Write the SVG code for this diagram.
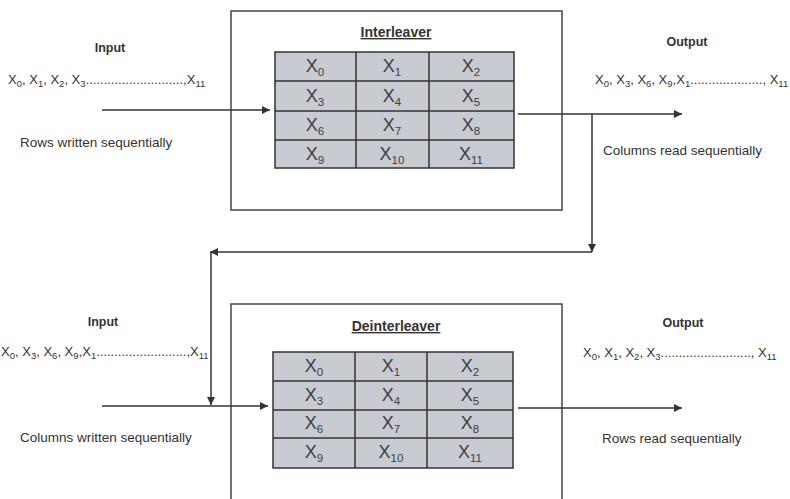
<svg xmlns="http://www.w3.org/2000/svg" width="790" height="499" viewBox="0 0 790 499">
<defs>
<marker id="ah" viewBox="0 0 10 10" refX="10" refY="5" markerWidth="9" markerHeight="8" markerUnits="userSpaceOnUse" orient="auto">
<path d="M0,0 L10,5 L0,10 z" fill="#333"/>
</marker>
<style>
text{font-family:"Liberation Sans",Arial,sans-serif;fill:#333}
.lbl{font-size:12.5px;font-weight:bold;text-anchor:middle}
.cap{font-size:13.5px}
.seq{font-size:13px}
.s{font-size:9.5px}
.box{fill:#fff;stroke:#444;stroke-width:1.5}
.grid{fill:#c9cbd3;stroke:#333;stroke-width:1.5}
.gl{stroke:#333;stroke-width:1.5}
.cell{font-size:18px;text-anchor:middle;fill:#404040}
.cs{font-size:11.5px}
.title{font-size:14px;font-weight:bold;text-anchor:middle;text-decoration:underline}
.con{stroke:#333;stroke-width:1.5;fill:none;marker-end:url(#ah)}
</style>
</defs>
<rect width="790" height="499" fill="#fff"/>

<g id="interleaver">
<rect class="box" x="231" y="11" width="331" height="199"/>
<text class="title" x="396" y="37">Interleaver</text>
<rect class="grid" x="275" y="52" width="239" height="116"/>
<line class="gl" x1="356" y1="52" x2="356" y2="168"/>
<line class="gl" x1="429" y1="52" x2="429" y2="168"/>
<line class="gl" x1="275" y1="81" x2="514" y2="81"/>
<line class="gl" x1="275" y1="111" x2="514" y2="111"/>
<line class="gl" x1="275" y1="140" x2="514" y2="140"/>
<text class="cell" x="315" y="72">X<tspan class="cs" dy="4">0</tspan></text>
<text class="cell" x="392" y="72">X<tspan class="cs" dy="4">1</tspan></text>
<text class="cell" x="471" y="72">X<tspan class="cs" dy="4">2</tspan></text>
<text class="cell" x="315" y="102">X<tspan class="cs" dy="4">3</tspan></text>
<text class="cell" x="392" y="102">X<tspan class="cs" dy="4">4</tspan></text>
<text class="cell" x="471" y="102">X<tspan class="cs" dy="4">5</tspan></text>
<text class="cell" x="315" y="131">X<tspan class="cs" dy="4">6</tspan></text>
<text class="cell" x="392" y="131">X<tspan class="cs" dy="4">7</tspan></text>
<text class="cell" x="471" y="131">X<tspan class="cs" dy="4">8</tspan></text>
<text class="cell" x="315" y="160">X<tspan class="cs" dy="4">9</tspan></text>
<text class="cell" x="392" y="160">X<tspan class="cs" dy="4">10</tspan></text>
<text class="cell" x="471" y="160">X<tspan class="cs" dy="4">11</tspan></text>
</g>

<g id="deinterleaver">
<rect class="box" x="231" y="304" width="331" height="200"/>
<text class="title" x="396" y="331">Deinterleaver</text>
<rect class="grid" x="273" y="352" width="240" height="116"/>
<line class="gl" x1="355" y1="352" x2="355" y2="468"/>
<line class="gl" x1="427" y1="352" x2="427" y2="468"/>
<line class="gl" x1="273" y1="381" x2="513" y2="381"/>
<line class="gl" x1="273" y1="410" x2="513" y2="410"/>
<line class="gl" x1="273" y1="438" x2="513" y2="438"/>
<text class="cell" x="314" y="372">X<tspan class="cs" dy="4">0</tspan></text>
<text class="cell" x="391" y="372">X<tspan class="cs" dy="4">1</tspan></text>
<text class="cell" x="470" y="372">X<tspan class="cs" dy="4">2</tspan></text>
<text class="cell" x="314" y="401">X<tspan class="cs" dy="4">3</tspan></text>
<text class="cell" x="391" y="401">X<tspan class="cs" dy="4">4</tspan></text>
<text class="cell" x="470" y="401">X<tspan class="cs" dy="4">5</tspan></text>
<text class="cell" x="314" y="429">X<tspan class="cs" dy="4">6</tspan></text>
<text class="cell" x="391" y="429">X<tspan class="cs" dy="4">7</tspan></text>
<text class="cell" x="470" y="429">X<tspan class="cs" dy="4">8</tspan></text>
<text class="cell" x="314" y="458">X<tspan class="cs" dy="4">9</tspan></text>
<text class="cell" x="391" y="458">X<tspan class="cs" dy="4">10</tspan></text>
<text class="cell" x="470" y="458">X<tspan class="cs" dy="4">11</tspan></text>
</g>

<g id="connectors">
<line class="con" x1="102" y1="110" x2="270" y2="110"/>
<line class="con" x1="518" y1="114" x2="682" y2="114"/>
<line class="con" x1="592" y1="114" x2="592" y2="252"/>
<line class="con" x1="592" y1="252" x2="210" y2="252"/>
<line class="con" x1="211" y1="252" x2="211" y2="405"/>
<line class="con" x1="102" y1="406" x2="268" y2="406"/>
<line class="con" x1="518" y1="408" x2="682" y2="408"/>
</g>

<g id="labels">
<text class="lbl" x="110" y="52">Input</text>
<text class="seq" x="8" y="84">X<tspan class="s" dy="3">0</tspan><tspan dy="-3">, X</tspan><tspan class="s" dy="3">1</tspan><tspan dy="-3">, X</tspan><tspan class="s" dy="3">2</tspan><tspan dy="-3">, X</tspan><tspan class="s" dy="3">3</tspan><tspan dy="-3">...........................,X</tspan><tspan class="s" dy="3">11</tspan></text>
<text class="cap" x="20" y="147">Rows written sequentially</text>

<text class="lbl" x="687" y="46">Output</text>
<text class="seq" x="595" y="84">X<tspan class="s" dy="3">0</tspan><tspan dy="-3">, X</tspan><tspan class="s" dy="3">3</tspan><tspan dy="-3">, X</tspan><tspan class="s" dy="3">6</tspan><tspan dy="-3">, X</tspan><tspan class="s" dy="3">9</tspan><tspan dy="-3">,X</tspan><tspan class="s" dy="3">1</tspan><tspan dy="-3">...................., X</tspan><tspan class="s" dy="3">11</tspan></text>
<text class="cap" x="603" y="155">Columns read sequentially</text>

<text class="lbl" x="103" y="326">Input</text>
<text class="seq" x="1" y="356">X<tspan class="s" dy="3">0</tspan><tspan dy="-3">, X</tspan><tspan class="s" dy="3">3</tspan><tspan dy="-3">, X</tspan><tspan class="s" dy="3">6</tspan><tspan dy="-3">, X</tspan><tspan class="s" dy="3">9</tspan><tspan dy="-3">,X</tspan><tspan class="s" dy="3">1</tspan><tspan dy="-3">.........................,X</tspan><tspan class="s" dy="3">11</tspan></text>
<text class="cap" x="20" y="442">Columns written sequentially</text>

<text class="lbl" x="683" y="327">Output</text>
<text class="seq" x="583" y="357">X<tspan class="s" dy="3">0</tspan><tspan dy="-3">, X</tspan><tspan class="s" dy="3">1</tspan><tspan dy="-3">, X</tspan><tspan class="s" dy="3">2</tspan><tspan dy="-3">, X</tspan><tspan class="s" dy="3">3</tspan><tspan dy="-3">........................., X</tspan><tspan class="s" dy="3">11</tspan></text>
<text class="cap" x="602" y="443">Rows read sequentially</text>
</g>
</svg>
